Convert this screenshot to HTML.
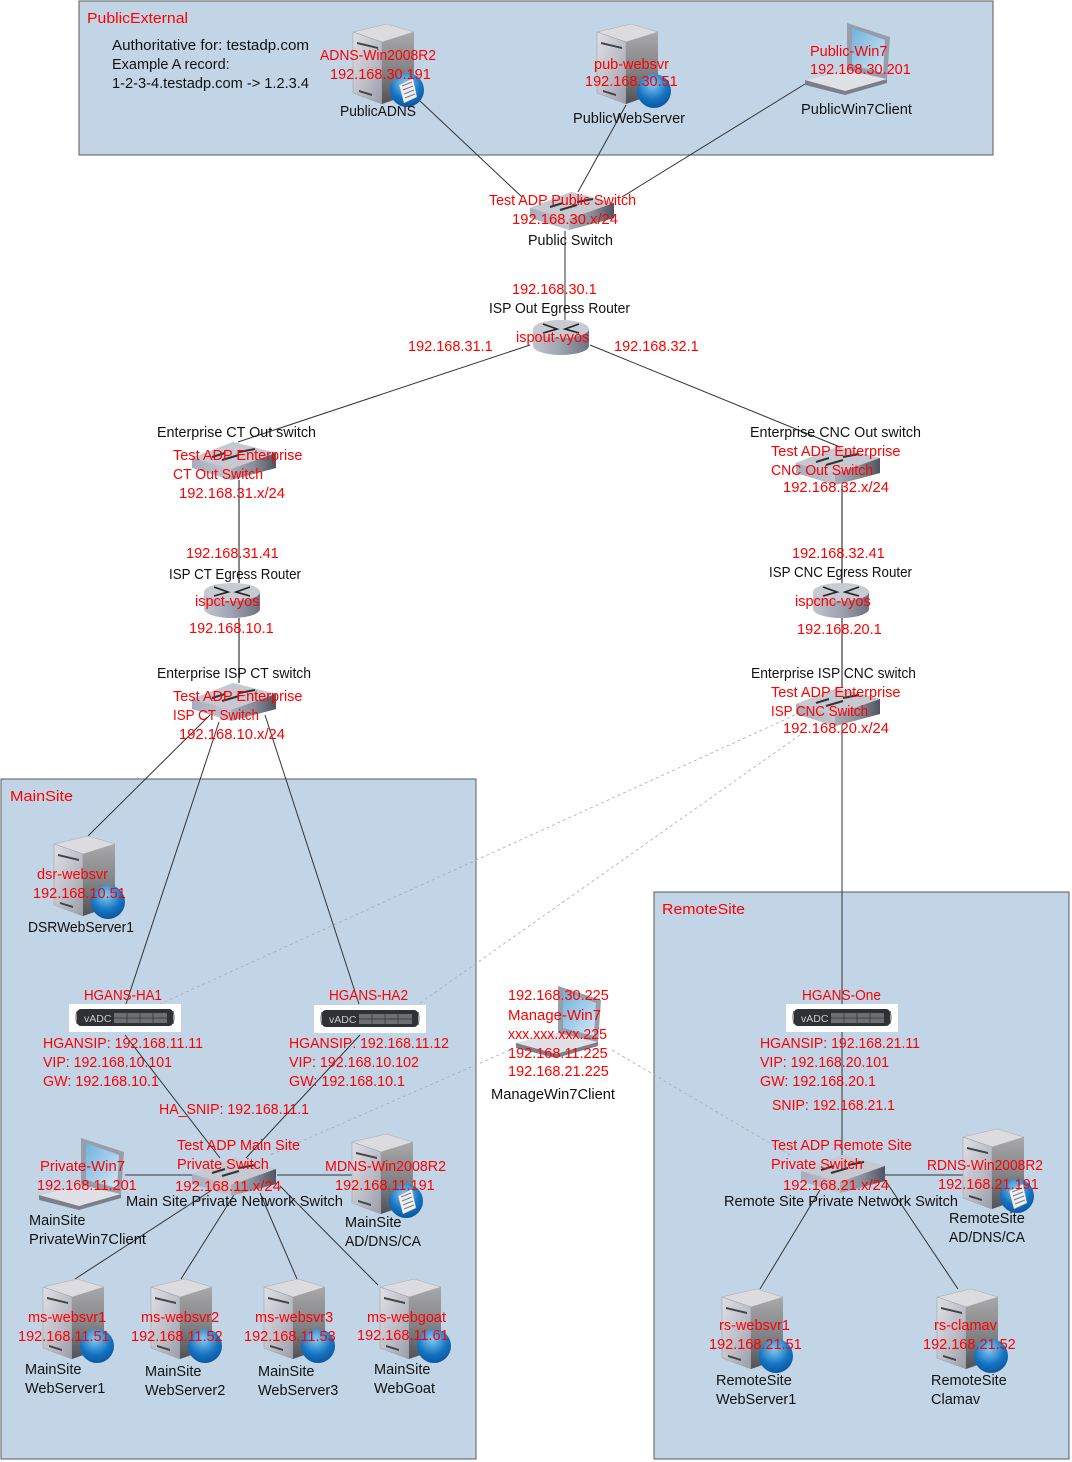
<!DOCTYPE html>
<html><head><meta charset="utf-8">
<style>
html,body{margin:0;padding:0;background:#fff}
svg{display:block}
text{font-family:"Liberation Sans",sans-serif;font-size:14.5px}
.r{fill:#fe0000}
.k{fill:#111}
.t{font-size:15px}
.c{stroke:#333;stroke-width:1;fill:none}
.g{stroke:#888;stroke-width:2;fill:none}
.d{stroke:#a4acb4;stroke-width:.8;stroke-dasharray:3 3;fill:none}
</style></head><body>
<svg width="1072" height="1462" viewBox="0 0 1072 1462" xmlns="http://www.w3.org/2000/svg">
<defs>
<linearGradient id="sf" x1="0" y1="0" x2="1" y2="1"><stop offset="0" stop-color="#dfe0e6"/><stop offset=".55" stop-color="#bcbec8"/><stop offset="1" stop-color="#9a9ca8"/></linearGradient>
<linearGradient id="sd" x1="0" y1="0" x2="0" y2="1"><stop offset="0" stop-color="#a8a8aa"/><stop offset=".5" stop-color="#858689"/><stop offset="1" stop-color="#505257"/></linearGradient>
<radialGradient id="gl" cx=".45" cy=".3" r=".8"><stop offset="0" stop-color="#86caf0"/><stop offset=".55" stop-color="#1576c4"/><stop offset="1" stop-color="#0a4a90"/></radialGradient>
<linearGradient id="sw" x1="0" y1="0" x2="1" y2="0"><stop offset="0" stop-color="#a6acbc"/><stop offset=".45" stop-color="#c3c6d0"/><stop offset="1" stop-color="#8f93a0"/></linearGradient>
<linearGradient id="swr" x1="0" y1="0" x2="1" y2="0"><stop offset="0" stop-color="#a9adb8"/><stop offset=".5" stop-color="#8a8e9a"/><stop offset="1" stop-color="#505460"/></linearGradient>
<linearGradient id="rt" x1="0" y1="0" x2="1" y2="0"><stop offset="0" stop-color="#c0c4ce"/><stop offset=".5" stop-color="#9ea3b1"/><stop offset="1" stop-color="#6e7280"/></linearGradient>
<linearGradient id="scr" x1="0" y1="0" x2="1" y2="1"><stop offset="0" stop-color="#6fb2dc"/><stop offset="1" stop-color="#d4e8f5"/></linearGradient>
<g id="srv">
<path d="M0 8L34 0L61 8L29 18Z" fill="#dcdce0" stroke="#aaa" stroke-width=".5"/>
<path d="M0 8L29 18V80L0 69Z" fill="url(#sf)" stroke="#999" stroke-width=".5"/>
<path d="M29 18L61 8V69L29 80Z" fill="url(#sd)"/>
<path d="M4 18L25 23V25L4 20Z" fill="#444"/>
<path d="M6 66L19 70V72L6 68Z" fill="#444"/>
</g>
<g id="glb"><circle r="17" fill="url(#gl)"/></g>
<g id="doc"><circle r="17" fill="url(#gl)"/><path d="M-8-5L6-12L10 7L-3 13Z" fill="#eef1f4" stroke="#99a" stroke-width=".5"/><path d="M-5-4L5-8M-4 0L6-4M-3 4L7 0M-2 8L8 4" stroke="#778" stroke-width="1"/></g>
<g id="lap">
<path d="M42 0L85 14L82 56L42 47Z" fill="#979daa"/>
<path d="M47 5L80 17L78 50L47 42Z" fill="url(#scr)"/>
<path d="M0 57L42 47L82 56V60L40 72L0 62Z" fill="#7b7f8a"/>
<path d="M0 57L42 47L82 56L40 68Z" fill="#dfe1e6"/>
</g>
<g id="swt">
<path d="M0 16L41 0L84 11V26L39 38L0 26Z" fill="url(#sw)"/>
<path d="M0 16L41 0L84 11L39 27Z" fill="#c6c9d1"/>
<path d="M39 27V38L84 26V11Z" fill="url(#swr)"/>
<path d="M20 15L33 11M30 18L47 13M47 10L63 7" stroke="#333" stroke-width="2"/>
</g>
<g id="rtr">
<path d="M0 9V26C0 31 13 35 28 35S56 31 56 26V9Z" fill="url(#rt)"/>
<ellipse cx="28" cy="9" rx="28" ry="9" fill="#c9cbd4"/>
<path d="M10 4L24 9L10 13M46 4L32 9L46 13" stroke="#222" stroke-width="1.6" fill="none"/>
</g>
<g id="adc">
<rect width="112" height="28" fill="#fff"/>
<rect x="8" y="5" width="96" height="17" rx="4" fill="#2f3134"/>
<path d="M8 7q-2 6 0 13M104 7q2 6 0 13" stroke="#555" fill="none"/>
<text x="15" y="18" style="font-size:10.5px" fill="#ccc">vADC</text>
<rect x="45" y="9" width="53" height="10" fill="#6d6f72"/>
<path d="M58 9V19M71 9V19M84 9V19M45 14H98" stroke="#333" stroke-width=".7"/>
</g>
</defs>

<rect x="79" y="1" width="914" height="154" fill="#c2d5e7" stroke="#5a5a5a"/>
<rect x="1" y="779" width="475" height="680" fill="#c2d5e7" stroke="#5a5a5a"/>
<rect x="654" y="892" width="415" height="567" fill="#c2d5e7" stroke="#5a5a5a"/>

<!-- connectors -->
<path class="c" d="M420 101L522 197M626 105L578 192M805 84L622 197"/>
<path class="g" d="M565 231V320" style="stroke-width:1.2;stroke:#555"/>
<path class="c" d="M530 345L238 442M590 345L840 447"/>
<path class="g" d="M239 480V583M239 618V683"/>
<path class="g" d="M842 485V583M842 618V688" />
<path class="c" d="M842 725V1004M842 1032V1155"/>
<path class="c" d="M212 713L88 836M219 722L126 1004M265 715L359 1004"/>
<path class="d" d="M795 715L160 1004M800 735L420 1003M510 1050L270 1155M612 1050L790 1155"/>
<path class="c" d="M125 1035L220 1158M360 1035L246 1158M125 1175H192M277 1175H352M212 1190L75 1279M237 1190L181 1279M260 1193L297 1279M280 1186L378 1285"/>
<path class="c" d="M885 1175H963M820 1190L760 1289M885 1180L958 1289"/>

<!-- nodes -->
<use href="#srv" x="353" y="24"/><use href="#doc" x="407" y="90"/>
<use href="#srv" x="597" y="24"/><use href="#glb" x="654" y="91"/>
<use href="#lap" x="805" y="23"/>
<use href="#swt" x="530" y="192"/>
<use href="#rtr" x="533" y="320"/>
<use href="#swt" x="192" y="442"/>
<use href="#swt" x="796" y="447"/>
<use href="#rtr" x="204" y="583"/>
<use href="#rtr" x="813" y="583"/>
<use href="#swt" x="192" y="683"/>
<use href="#swt" x="796" y="688"/>
<use href="#srv" x="54" y="836"/><use href="#glb" x="108" y="902"/>
<use href="#adc" x="69" y="1004"/>
<use href="#adc" x="314" y="1005"/>
<use href="#adc" x="786" y="1004"/>
<use href="#lap" x="516" y="986"/>
<use href="#lap" x="39" y="1138"/>
<use href="#swt" x="192" y="1158"/>
<use href="#srv" x="352" y="1134"/><use href="#doc" x="406" y="1201"/>
<use href="#swt" x="801" y="1155"/>
<use href="#srv" x="963" y="1129"/><use href="#doc" x="1017" y="1196"/>
<use href="#srv" x="43" y="1279"/><use href="#glb" x="97" y="1346"/>
<use href="#srv" x="151" y="1279"/><use href="#glb" x="205" y="1346"/>
<use href="#srv" x="264" y="1279"/><use href="#glb" x="318" y="1346"/>
<use href="#srv" x="380" y="1279"/><use href="#glb" x="434" y="1346"/>
<use href="#srv" x="722" y="1289"/><use href="#glb" x="776" y="1356"/>
<use href="#srv" x="937" y="1289"/><use href="#glb" x="991" y="1356"/>

<!-- black labels -->
<g class="k">
<text x="112" y="50" textLength="197" lengthAdjust="spacingAndGlyphs">Authoritative for: testadp.com</text>
<text x="112" y="69">Example A record:</text>
<text x="112" y="88" textLength="197" lengthAdjust="spacingAndGlyphs">1-2-3-4.testadp.com -&gt; 1.2.3.4</text>
<text x="340" y="116" textLength="76" lengthAdjust="spacingAndGlyphs">PublicADNS</text>
<text x="573" y="123" textLength="112" lengthAdjust="spacingAndGlyphs">PublicWebServer</text>
<text x="801" y="114" textLength="111" lengthAdjust="spacingAndGlyphs">PublicWin7Client</text>
<text x="528" y="245" textLength="85" lengthAdjust="spacingAndGlyphs">Public Switch</text>
<text x="489" y="313" textLength="141" lengthAdjust="spacingAndGlyphs">ISP Out Egress Router</text>
<text x="157" y="437" textLength="159" lengthAdjust="spacingAndGlyphs">Enterprise CT Out switch</text>
<text x="750" y="437" textLength="171" lengthAdjust="spacingAndGlyphs">Enterprise CNC Out switch</text>
<text x="169" y="579" textLength="132" lengthAdjust="spacingAndGlyphs">ISP CT Egress Router</text>
<text x="769" y="577" textLength="143" lengthAdjust="spacingAndGlyphs">ISP CNC Egress Router</text>
<text x="157" y="678" textLength="154" lengthAdjust="spacingAndGlyphs">Enterprise ISP CT switch</text>
<text x="751" y="678" textLength="165" lengthAdjust="spacingAndGlyphs">Enterprise ISP CNC switch</text>
<text x="28" y="932" textLength="106" lengthAdjust="spacingAndGlyphs">DSRWebServer1</text>
<text x="491" y="1099" textLength="124" lengthAdjust="spacingAndGlyphs">ManageWin7Client</text>
<text x="126" y="1206" textLength="217" lengthAdjust="spacingAndGlyphs">Main Site Private Network Switch</text>
<text x="724" y="1206" textLength="234" lengthAdjust="spacingAndGlyphs">Remote Site Private Network Switch</text>
<text x="29" y="1225">MainSite</text><text x="29" y="1244" textLength="117" lengthAdjust="spacingAndGlyphs">PrivateWin7Client</text>
<text x="345" y="1227">MainSite</text><text x="345" y="1246" textLength="76" lengthAdjust="spacingAndGlyphs">AD/DNS/CA</text>
<text x="949" y="1223">RemoteSite</text><text x="949" y="1242" textLength="76" lengthAdjust="spacingAndGlyphs">AD/DNS/CA</text>
<text x="25" y="1374">MainSite</text><text x="25" y="1393">WebServer1</text>
<text x="145" y="1376">MainSite</text><text x="145" y="1395">WebServer2</text>
<text x="258" y="1376">MainSite</text><text x="258" y="1395">WebServer3</text>
<text x="374" y="1374">MainSite</text><text x="374" y="1393">WebGoat</text>
<text x="716" y="1385">RemoteSite</text><text x="716" y="1404">WebServer1</text>
<text x="931" y="1385">RemoteSite</text><text x="931" y="1404">Clamav</text>
</g>

<!-- red labels -->
<g class="r">
<text class="t" x="87" y="23" textLength="101" lengthAdjust="spacingAndGlyphs">PublicExternal</text>
<text class="t" x="10" y="801" textLength="63" lengthAdjust="spacingAndGlyphs">MainSite</text>
<text class="t" x="662" y="914" textLength="83" lengthAdjust="spacingAndGlyphs">RemoteSite</text>
<text x="320" y="60" textLength="116" lengthAdjust="spacingAndGlyphs">ADNS-Win2008R2</text>
<text x="330" y="79">192.168.30.191</text>
<text x="594" y="69">pub-websvr</text>
<text x="585" y="86">192.168.30.51</text>
<text x="810" y="56">Public-Win7</text>
<text x="810" y="74">192.168.30.201</text>
<text x="489" y="205" textLength="147" lengthAdjust="spacingAndGlyphs">Test ADP Public Switch</text>
<text x="512" y="224" textLength="106" lengthAdjust="spacingAndGlyphs">192.168.30.x/24</text>
<text x="512" y="294">192.168.30.1</text>
<text x="516" y="342">ispout-vyos</text>
<text x="408" y="351">192.168.31.1</text>
<text x="614" y="351">192.168.32.1</text>
<text x="173" y="460">Test ADP Enterprise</text>
<text x="173" y="479" textLength="90" lengthAdjust="spacingAndGlyphs">CT Out Switch</text>
<text x="179" y="498" textLength="106" lengthAdjust="spacingAndGlyphs">192.168.31.x/24</text>
<text x="771" y="456">Test ADP Enterprise</text>
<text x="771" y="475" textLength="102" lengthAdjust="spacingAndGlyphs">CNC Out Switch</text>
<text x="783" y="492" textLength="106" lengthAdjust="spacingAndGlyphs">192.168.32.x/24</text>
<text x="186" y="558">192.168.31.41</text>
<text x="792" y="558">192.168.32.41</text>
<text x="195" y="606">ispct-vyos</text>
<text x="795" y="606">ispcnc-vyos</text>
<text x="189" y="633">192.168.10.1</text>
<text x="797" y="634">192.168.20.1</text>
<text x="173" y="701">Test ADP Enterprise</text>
<text x="173" y="720" textLength="86" lengthAdjust="spacingAndGlyphs">ISP CT Switch</text>
<text x="179" y="739" textLength="106" lengthAdjust="spacingAndGlyphs">192.168.10.x/24</text>
<text x="771" y="697">Test ADP Enterprise</text>
<text x="771" y="716" textLength="97" lengthAdjust="spacingAndGlyphs">ISP CNC Switch</text>
<text x="783" y="733" textLength="106" lengthAdjust="spacingAndGlyphs">192.168.20.x/24</text>
<text x="37" y="879">dsr-websvr</text>
<text x="33" y="898">192.168.10.51</text>
<text x="84" y="1000" textLength="78" lengthAdjust="spacingAndGlyphs">HGANS-HA1</text>
<text x="329" y="1000" textLength="79" lengthAdjust="spacingAndGlyphs">HGANS-HA2</text>
<text x="802" y="1000" textLength="79" lengthAdjust="spacingAndGlyphs">HGANS-One</text>
<text x="43" y="1048" textLength="160" lengthAdjust="spacingAndGlyphs">HGANSIP: 192.168.11.11</text>
<text x="43" y="1067" textLength="129" lengthAdjust="spacingAndGlyphs">VIP: 192.168.10.101</text>
<text x="43" y="1086" textLength="116" lengthAdjust="spacingAndGlyphs">GW: 192.168.10.1</text>
<text x="289" y="1048" textLength="160" lengthAdjust="spacingAndGlyphs">HGANSIP: 192.168.11.12</text>
<text x="289" y="1067" textLength="130" lengthAdjust="spacingAndGlyphs">VIP: 192.168.10.102</text>
<text x="289" y="1086" textLength="116" lengthAdjust="spacingAndGlyphs">GW: 192.168.10.1</text>
<text x="760" y="1048" textLength="160" lengthAdjust="spacingAndGlyphs">HGANSIP: 192.168.21.11</text>
<text x="760" y="1067" textLength="129" lengthAdjust="spacingAndGlyphs">VIP: 192.168.20.101</text>
<text x="760" y="1086" textLength="116" lengthAdjust="spacingAndGlyphs">GW: 192.168.20.1</text>
<text x="159" y="1114" textLength="150" lengthAdjust="spacingAndGlyphs">HA_SNIP: 192.168.11.1</text>
<text x="772" y="1110" textLength="123" lengthAdjust="spacingAndGlyphs">SNIP: 192.168.21.1</text>
<text x="508" y="1000">192.168.30.225</text>
<text x="508" y="1020" textLength="93" lengthAdjust="spacingAndGlyphs">Manage-Win7</text>
<text x="508" y="1039" textLength="99" lengthAdjust="spacingAndGlyphs">xxx.xxx.xxx.225</text>
<text x="508" y="1058">192.168.11.225</text>
<text x="508" y="1076">192.168.21.225</text>
<text x="177" y="1150" textLength="123" lengthAdjust="spacingAndGlyphs">Test ADP Main Site</text>
<text x="177" y="1169">Private Switch</text>
<text x="175" y="1191" textLength="106" lengthAdjust="spacingAndGlyphs">192.168.11.x/24</text>
<text x="771" y="1150" textLength="141" lengthAdjust="spacingAndGlyphs">Test ADP Remote Site</text>
<text x="771" y="1169">Private Switch</text>
<text x="783" y="1190" textLength="106" lengthAdjust="spacingAndGlyphs">192.168.21.x/24</text>
<text x="40" y="1171" textLength="85" lengthAdjust="spacingAndGlyphs">Private-Win7</text>
<text x="37" y="1190">192.168.11.201</text>
<text x="325" y="1171" textLength="121" lengthAdjust="spacingAndGlyphs">MDNS-Win2008R2</text>
<text x="335" y="1190">192.168.11.191</text>
<text x="927" y="1170" textLength="116" lengthAdjust="spacingAndGlyphs">RDNS-Win2008R2</text>
<text x="938" y="1189">192.168.21.191</text>
<text x="28" y="1322">ms-websvr1</text>
<text x="18" y="1341">192.168.11.51</text>
<text x="141" y="1322">ms-websvr2</text>
<text x="131" y="1341">192.168.11.52</text>
<text x="255" y="1322">ms-websvr3</text>
<text x="244" y="1341">192.168.11.53</text>
<text x="367" y="1322">ms-webgoat</text>
<text x="357" y="1340">192.168.11.61</text>
<text x="719" y="1330">rs-websvr1</text>
<text x="709" y="1349">192.168.21.51</text>
<text x="934" y="1330">rs-clamav</text>
<text x="923" y="1349">192.168.21.52</text>
</g>
</svg>
</body></html>
